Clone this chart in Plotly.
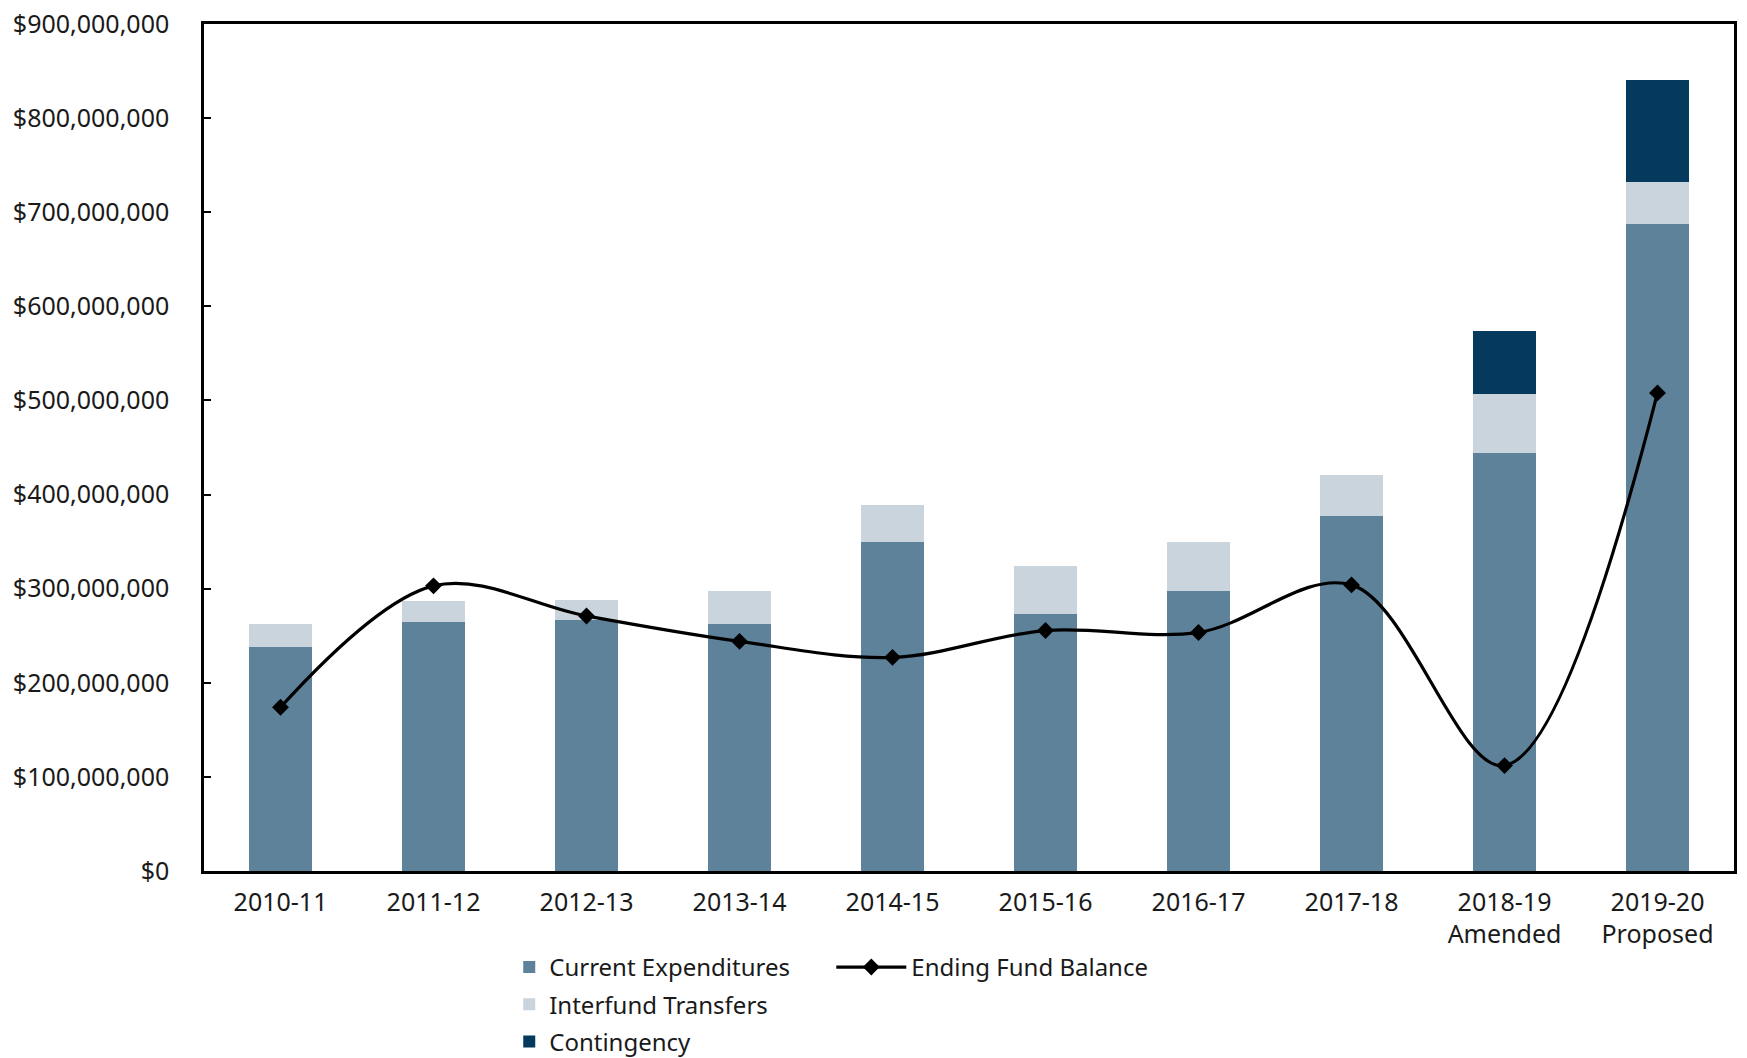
import plotly.graph_objects as go

categories = ["2010-11", "2011-12", "2012-13", "2013-14", "2014-15", "2015-16",
              "2016-17", "2017-18", "2018-19<br>Amended", "2019-20<br>Proposed"]
current_expenditures = [238.5e6, 265e6, 267e6, 262e6, 350e6, 273.5e6, 298e6, 377.5e6, 444e6, 688e6]
interfund_transfers = [23.5e6, 22e6, 21e6, 36e6, 39e6, 51e6, 52e6, 43.5e6, 63e6, 44.5e6]
contingency = [0, 0, 0, 0, 0, 0, 0, 0, 66.5e6, 108e6]
ending_fund_balance = [174e6, 303e6, 271e6, 244e6, 227e6, 255.5e6, 253.5e6, 304e6, 112e6, 508e6]

FONT = "Noto Sans"

fig = go.Figure()
fig.add_trace(go.Bar(x=categories, y=current_expenditures, name="Current Expenditures",
                     marker=dict(color="#5E829A", line=dict(width=0)), legend="legend",
                     legendgroup="a"))
fig.add_trace(go.Bar(x=categories, y=interfund_transfers, name="Interfund Transfers",
                     marker=dict(color="#CAD4DD", line=dict(width=0)), legend="legend",
                     legendgroup="b"))
fig.add_trace(go.Bar(x=categories, y=contingency, name="Contingency",
                     marker=dict(color="#053A5E", line=dict(width=0)), legend="legend",
                     legendgroup="c"))
fig.add_trace(go.Scatter(x=categories, y=ending_fund_balance, name="Ending Fund Balance",
                         mode="lines+markers", line=dict(color="black", width=3.2, shape="spline", smoothing=1),
                         marker=dict(symbol="diamond", size=13, color="black"), legend="legend2"))

fig.update_layout(
    barmode="stack",
    bargap=0.59,
    width=1747, height=1058,
    margin=dict(l=196, r=21, t=16, b=195),
    plot_bgcolor="white", paper_bgcolor="white",
    font=dict(family=FONT, size=24, color="#1a1a1a"),
    legend=dict(x=0.1995, xanchor="left", xref="paper", y=0.1144, yanchor="top", yref="container",
                orientation="v", bgcolor="rgba(0,0,0,0)", font=dict(size=24),
                traceorder="grouped", tracegroupgap=3),
    legend2=dict(x=0.41, xanchor="left", xref="paper", y=0.1144, yanchor="top", yref="container",
                 orientation="v", bgcolor="rgba(0,0,0,0)", font=dict(size=24), itemwidth=70),
    showlegend=True,
)
fig.update_yaxes(range=[0, 900e6], dtick=100e6, tickprefix="$", tickformat=",d",
                 showgrid=False, zeroline=False, showline=True, mirror=True,
                 linecolor="black", linewidth=2.5, ticks="inside", ticklen=7, tickwidth=2,
                 tickcolor="black", ticklabelstandoff=27, tickfont=dict(size=25),
                 ticklabeloverflow="allow", automargin=False)
fig.update_xaxes(type="category", range=[-0.5, len(categories) - 0.5], showgrid=False,
                 showline=True, mirror=True, linecolor="black",
                 linewidth=2.5, ticks="", ticklabelstandoff=7, tickfont=dict(size=25),
                 automargin=False)

fig.write_html("out.html")
